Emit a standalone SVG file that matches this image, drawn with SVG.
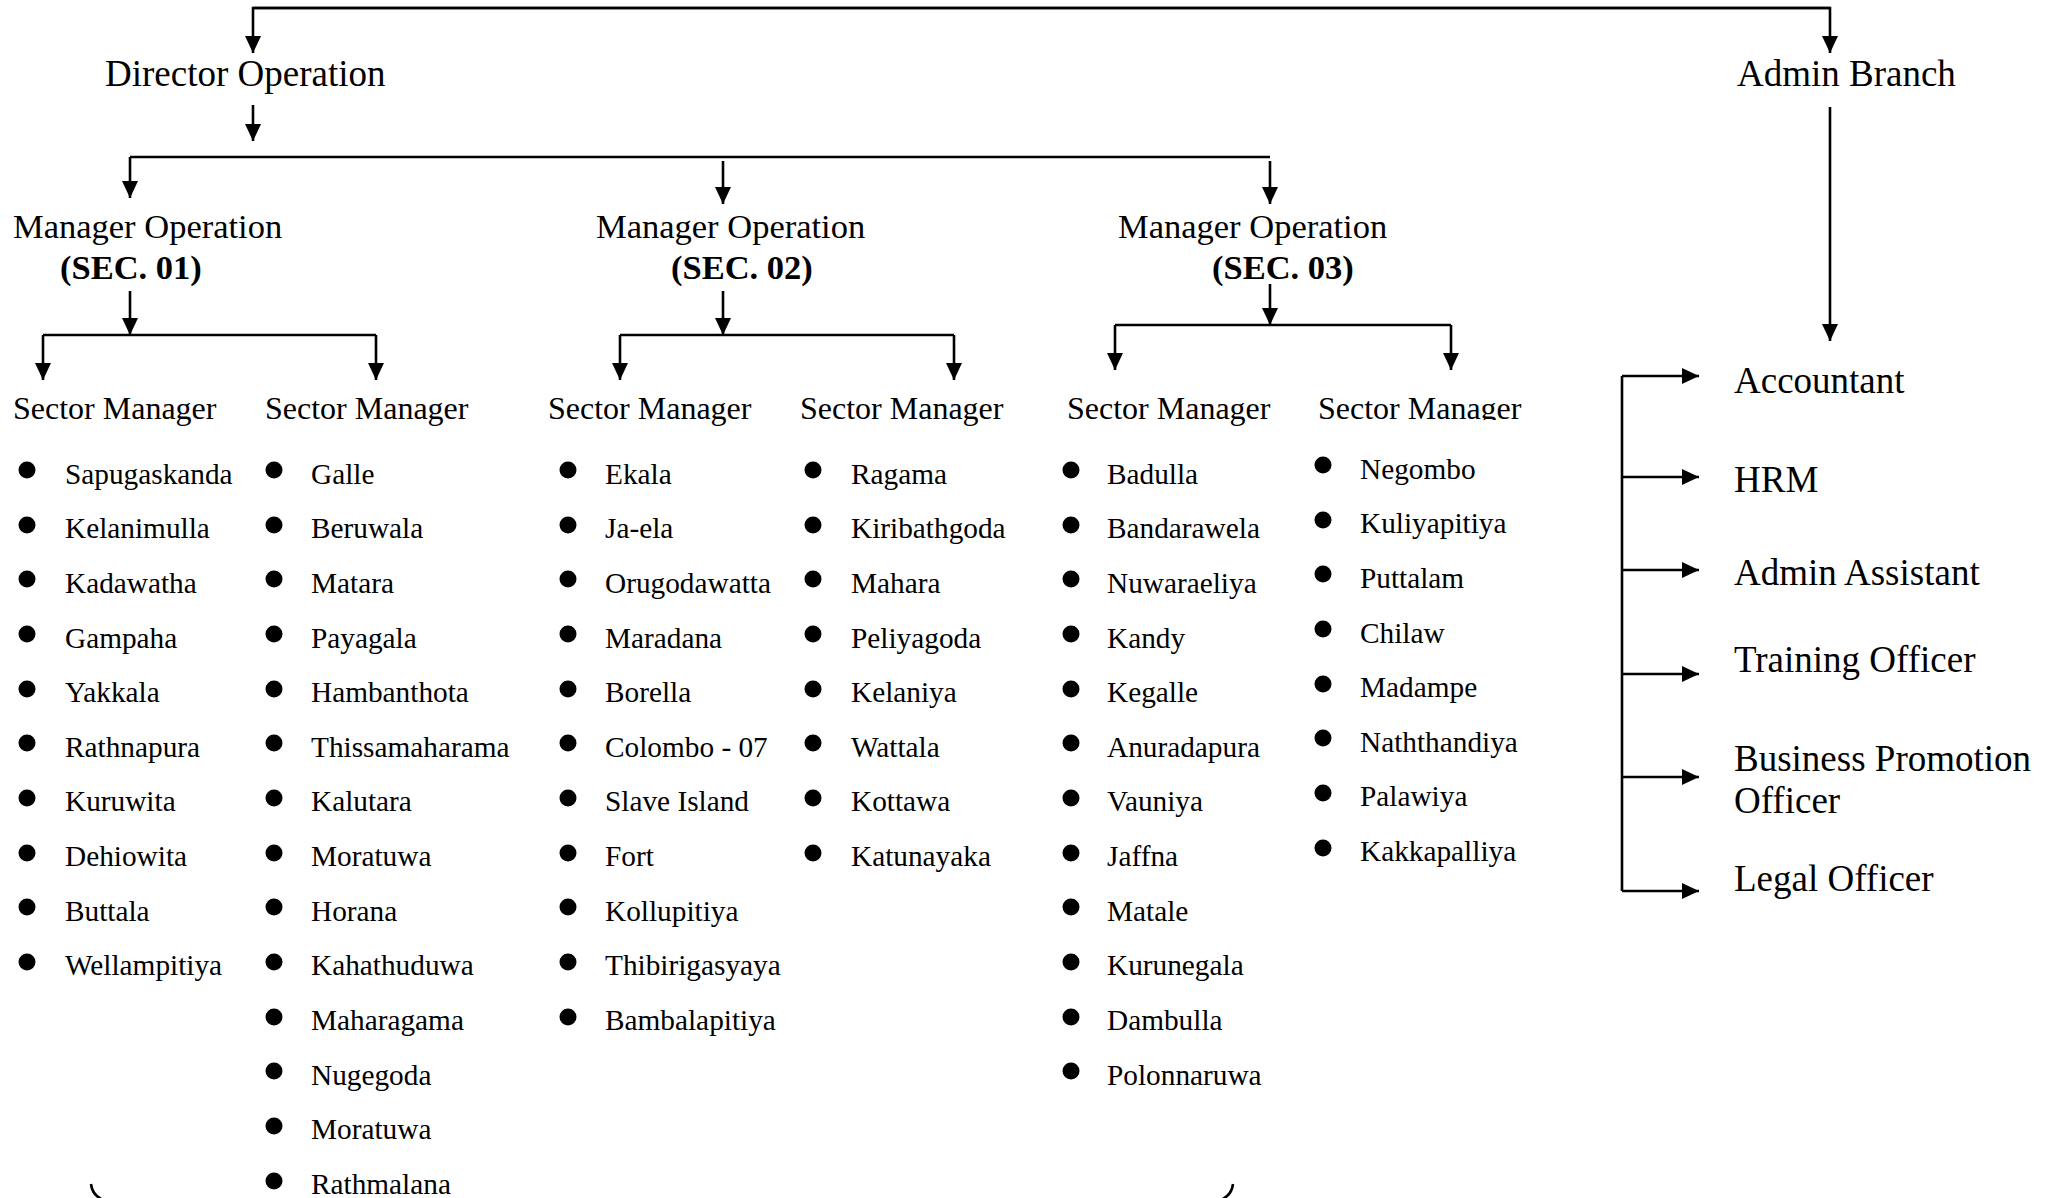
<svg xmlns="http://www.w3.org/2000/svg" width="2055" height="1198" viewBox="0 0 2055 1198">
<style>
text{font-family:"Liberation Serif","Times New Roman",serif;fill:#000}
.t37{font-size:37px}
.t34{font-size:34.5px}
.b34{font-size:34.5px;font-weight:bold}
.sm{font-size:32px}
.li{font-size:29.3px}
.c{fill:none;stroke:#000;stroke-width:2.6}
.a{marker-end:url(#ah)}
</style>
<defs>
<marker id="ah" markerUnits="userSpaceOnUse" markerWidth="18" markerHeight="16" refX="17" refY="8" orient="auto"><path d="M0,0 L17,8 L0,16 z" fill="#000"/></marker>
<clipPath id="clip6"><rect x="1300" y="380" width="300" height="40"/></clipPath>
</defs>
<rect width="2055" height="1198" fill="#fff"/>
<g id="connectors">
<path class="c a" d="M1830,8 H253 V53"/>
<path class="c a" d="M253,8 H1830 V53"/>
<path class="c a" d="M253,105 V141"/>
<path class="c" d="M130,157 H1270"/>
<path class="c a" d="M130,157 V198"/>
<path class="c a" d="M723,161 V204"/>
<path class="c a" d="M1270,161 V204"/>
<path class="c a" d="M130,291 V335"/>
<path class="c" d="M43,335 H376"/>
<path class="c a" d="M43,335 V380"/>
<path class="c a" d="M376,335 V380"/>
<path class="c a" d="M723,291 V335"/>
<path class="c" d="M620,335 H954"/>
<path class="c a" d="M620,335 V380"/>
<path class="c a" d="M954,335 V380"/>
<path class="c a" d="M1270,284 V325"/>
<path class="c" d="M1115,325 H1451"/>
<path class="c a" d="M1115,325 V370"/>
<path class="c a" d="M1451,325 V370"/>
<path class="c a" d="M1830,107 V341"/>
<path class="c" d="M1622,376 V891"/>
<path class="c a" d="M1622,376 H1699"/>
<path class="c a" d="M1622,477 H1699"/>
<path class="c a" d="M1622,570 H1699"/>
<path class="c a" d="M1622,674 H1699"/>
<path class="c a" d="M1622,777 H1699"/>
<path class="c a" d="M1622,891 H1699"/>
<path class="c" d="M91,1184 Q92,1194 101,1199"/>
<path class="c" d="M1233,1184 Q1232,1194 1223,1199"/>
</g>
<g id="director"><text class="t37" x="105" y="86">Director Operation</text></g>
<g id="admin-branch"><text class="t37" x="1737" y="86">Admin Branch</text></g>
<g id="mgr-sec01"><text class="t34" x="13" y="238">Manager Operation</text><text class="b34" x="60" y="279">(SEC. 01)</text></g>
<g id="mgr-sec02"><text class="t34" x="596" y="238">Manager Operation</text><text class="b34" x="671" y="279">(SEC. 02)</text></g>
<g id="mgr-sec03"><text class="t34" x="1118" y="238">Manager Operation</text><text class="b34" x="1212" y="279">(SEC. 03)</text></g>
<g id="sector1"><text class="sm" x="13" y="419">Sector Manager</text>
<g fill="#000"><circle cx="27" cy="470" r="8.5"/><circle cx="27" cy="525" r="8.5"/><circle cx="27" cy="579" r="8.5"/><circle cx="27" cy="634" r="8.5"/><circle cx="27" cy="689" r="8.5"/><circle cx="27" cy="743" r="8.5"/><circle cx="27" cy="798" r="8.5"/><circle cx="27" cy="853" r="8.5"/><circle cx="27" cy="907" r="8.5"/><circle cx="27" cy="962" r="8.5"/></g>
<text class="li" x="65" y="483.5">Sapugaskanda</text><text class="li" x="65" y="538.2">Kelanimulla</text><text class="li" x="65" y="592.8">Kadawatha</text><text class="li" x="65" y="647.5">Gampaha</text><text class="li" x="65" y="702.1">Yakkala</text><text class="li" x="65" y="756.8">Rathnapura</text><text class="li" x="65" y="811.4">Kuruwita</text><text class="li" x="65" y="866.1">Dehiowita</text><text class="li" x="65" y="920.7">Buttala</text><text class="li" x="65" y="975.4">Wellampitiya</text>
</g>
<g id="sector2"><text class="sm" x="265" y="419">Sector Manager</text>
<g fill="#000"><circle cx="274" cy="470" r="8.5"/><circle cx="274" cy="525" r="8.5"/><circle cx="274" cy="579" r="8.5"/><circle cx="274" cy="634" r="8.5"/><circle cx="274" cy="689" r="8.5"/><circle cx="274" cy="743" r="8.5"/><circle cx="274" cy="798" r="8.5"/><circle cx="274" cy="853" r="8.5"/><circle cx="274" cy="907" r="8.5"/><circle cx="274" cy="962" r="8.5"/><circle cx="274" cy="1017" r="8.5"/><circle cx="274" cy="1071" r="8.5"/><circle cx="274" cy="1126" r="8.5"/><circle cx="274" cy="1181" r="8.5"/></g>
<text class="li" x="311" y="483.5">Galle</text><text class="li" x="311" y="538.2">Beruwala</text><text class="li" x="311" y="592.8">Matara</text><text class="li" x="311" y="647.5">Payagala</text><text class="li" x="311" y="702.1">Hambanthota</text><text class="li" x="311" y="756.8">Thissamaharama</text><text class="li" x="311" y="811.4">Kalutara</text><text class="li" x="311" y="866.1">Moratuwa</text><text class="li" x="311" y="920.7">Horana</text><text class="li" x="311" y="975.4">Kahathuduwa</text><text class="li" x="311" y="1030">Maharagama</text><text class="li" x="311" y="1084.7">Nugegoda</text><text class="li" x="311" y="1139.3">Moratuwa</text><text class="li" x="311" y="1194">Rathmalana</text>
</g>
<g id="sector3"><text class="sm" x="548" y="419">Sector Manager</text>
<g fill="#000"><circle cx="568" cy="470" r="8.5"/><circle cx="568" cy="525" r="8.5"/><circle cx="568" cy="579" r="8.5"/><circle cx="568" cy="634" r="8.5"/><circle cx="568" cy="689" r="8.5"/><circle cx="568" cy="743" r="8.5"/><circle cx="568" cy="798" r="8.5"/><circle cx="568" cy="853" r="8.5"/><circle cx="568" cy="907" r="8.5"/><circle cx="568" cy="962" r="8.5"/><circle cx="568" cy="1017" r="8.5"/></g>
<text class="li" x="605" y="483.5">Ekala</text><text class="li" x="605" y="538.2">Ja-ela</text><text class="li" x="605" y="592.8">Orugodawatta</text><text class="li" x="605" y="647.5">Maradana</text><text class="li" x="605" y="702.1">Borella</text><text class="li" x="605" y="756.8">Colombo - 07</text><text class="li" x="605" y="811.4">Slave Island</text><text class="li" x="605" y="866.1">Fort</text><text class="li" x="605" y="920.7">Kollupitiya</text><text class="li" x="605" y="975.4">Thibirigasyaya</text><text class="li" x="605" y="1030">Bambalapitiya</text>
</g>
<g id="sector4"><text class="sm" x="800" y="419">Sector Manager</text>
<g fill="#000"><circle cx="813" cy="470" r="8.5"/><circle cx="813" cy="525" r="8.5"/><circle cx="813" cy="579" r="8.5"/><circle cx="813" cy="634" r="8.5"/><circle cx="813" cy="689" r="8.5"/><circle cx="813" cy="743" r="8.5"/><circle cx="813" cy="798" r="8.5"/><circle cx="813" cy="853" r="8.5"/></g>
<text class="li" x="851" y="483.5">Ragama</text><text class="li" x="851" y="538.2">Kiribathgoda</text><text class="li" x="851" y="592.8">Mahara</text><text class="li" x="851" y="647.5">Peliyagoda</text><text class="li" x="851" y="702.1">Kelaniya</text><text class="li" x="851" y="756.8">Wattala</text><text class="li" x="851" y="811.4">Kottawa</text><text class="li" x="851" y="866.1">Katunayaka</text>
</g>
<g id="sector5"><text class="sm" x="1067" y="419">Sector Manager</text>
<g fill="#000"><circle cx="1071" cy="470" r="8.5"/><circle cx="1071" cy="525" r="8.5"/><circle cx="1071" cy="579" r="8.5"/><circle cx="1071" cy="634" r="8.5"/><circle cx="1071" cy="689" r="8.5"/><circle cx="1071" cy="743" r="8.5"/><circle cx="1071" cy="798" r="8.5"/><circle cx="1071" cy="853" r="8.5"/><circle cx="1071" cy="907" r="8.5"/><circle cx="1071" cy="962" r="8.5"/><circle cx="1071" cy="1017" r="8.5"/><circle cx="1071" cy="1071" r="8.5"/></g>
<text class="li" x="1107" y="483.5">Badulla</text><text class="li" x="1107" y="538.2">Bandarawela</text><text class="li" x="1107" y="592.8">Nuwaraeliya</text><text class="li" x="1107" y="647.5">Kandy</text><text class="li" x="1107" y="702.1">Kegalle</text><text class="li" x="1107" y="756.8">Anuradapura</text><text class="li" x="1107" y="811.4">Vauniya</text><text class="li" x="1107" y="866.1">Jaffna</text><text class="li" x="1107" y="920.7">Matale</text><text class="li" x="1107" y="975.4">Kurunegala</text><text class="li" x="1107" y="1030">Dambulla</text><text class="li" x="1107" y="1084.7">Polonnaruwa</text>
</g>
<g id="sector6"><text class="sm" x="1318" y="419" clip-path="url(#clip6)">Sector Manager</text>
<g fill="#000"><circle cx="1323" cy="465" r="8.5"/><circle cx="1323" cy="520" r="8.5"/><circle cx="1323" cy="574" r="8.5"/><circle cx="1323" cy="629" r="8.5"/><circle cx="1323" cy="684" r="8.5"/><circle cx="1323" cy="738" r="8.5"/><circle cx="1323" cy="793" r="8.5"/><circle cx="1323" cy="848" r="8.5"/></g>
<text class="li" x="1360" y="478.5">Negombo</text><text class="li" x="1360" y="533.2">Kuliyapitiya</text><text class="li" x="1360" y="587.8">Puttalam</text><text class="li" x="1360" y="642.5">Chilaw</text><text class="li" x="1360" y="697.1">Madampe</text><text class="li" x="1360" y="751.8">Naththandiya</text><text class="li" x="1360" y="806.4">Palawiya</text><text class="li" x="1360" y="861.1">Kakkapalliya</text>
</g>
<g id="accountant"><text class="t37" x="1734" y="393">Accountant</text></g>
<g id="hrm"><text class="t37" x="1734" y="492">HRM</text></g>
<g id="admin-assistant"><text class="t37" x="1734" y="585">Admin Assistant</text></g>
<g id="training-officer"><text class="t37" x="1734" y="672">Training Officer</text></g>
<g id="business-promotion-officer"><text class="t37" x="1734" y="771">Business Promotion</text><text class="t37" x="1734" y="813">Officer</text></g>
<g id="legal-officer"><text class="t37" x="1734" y="891">Legal Officer</text></g>
</svg>
